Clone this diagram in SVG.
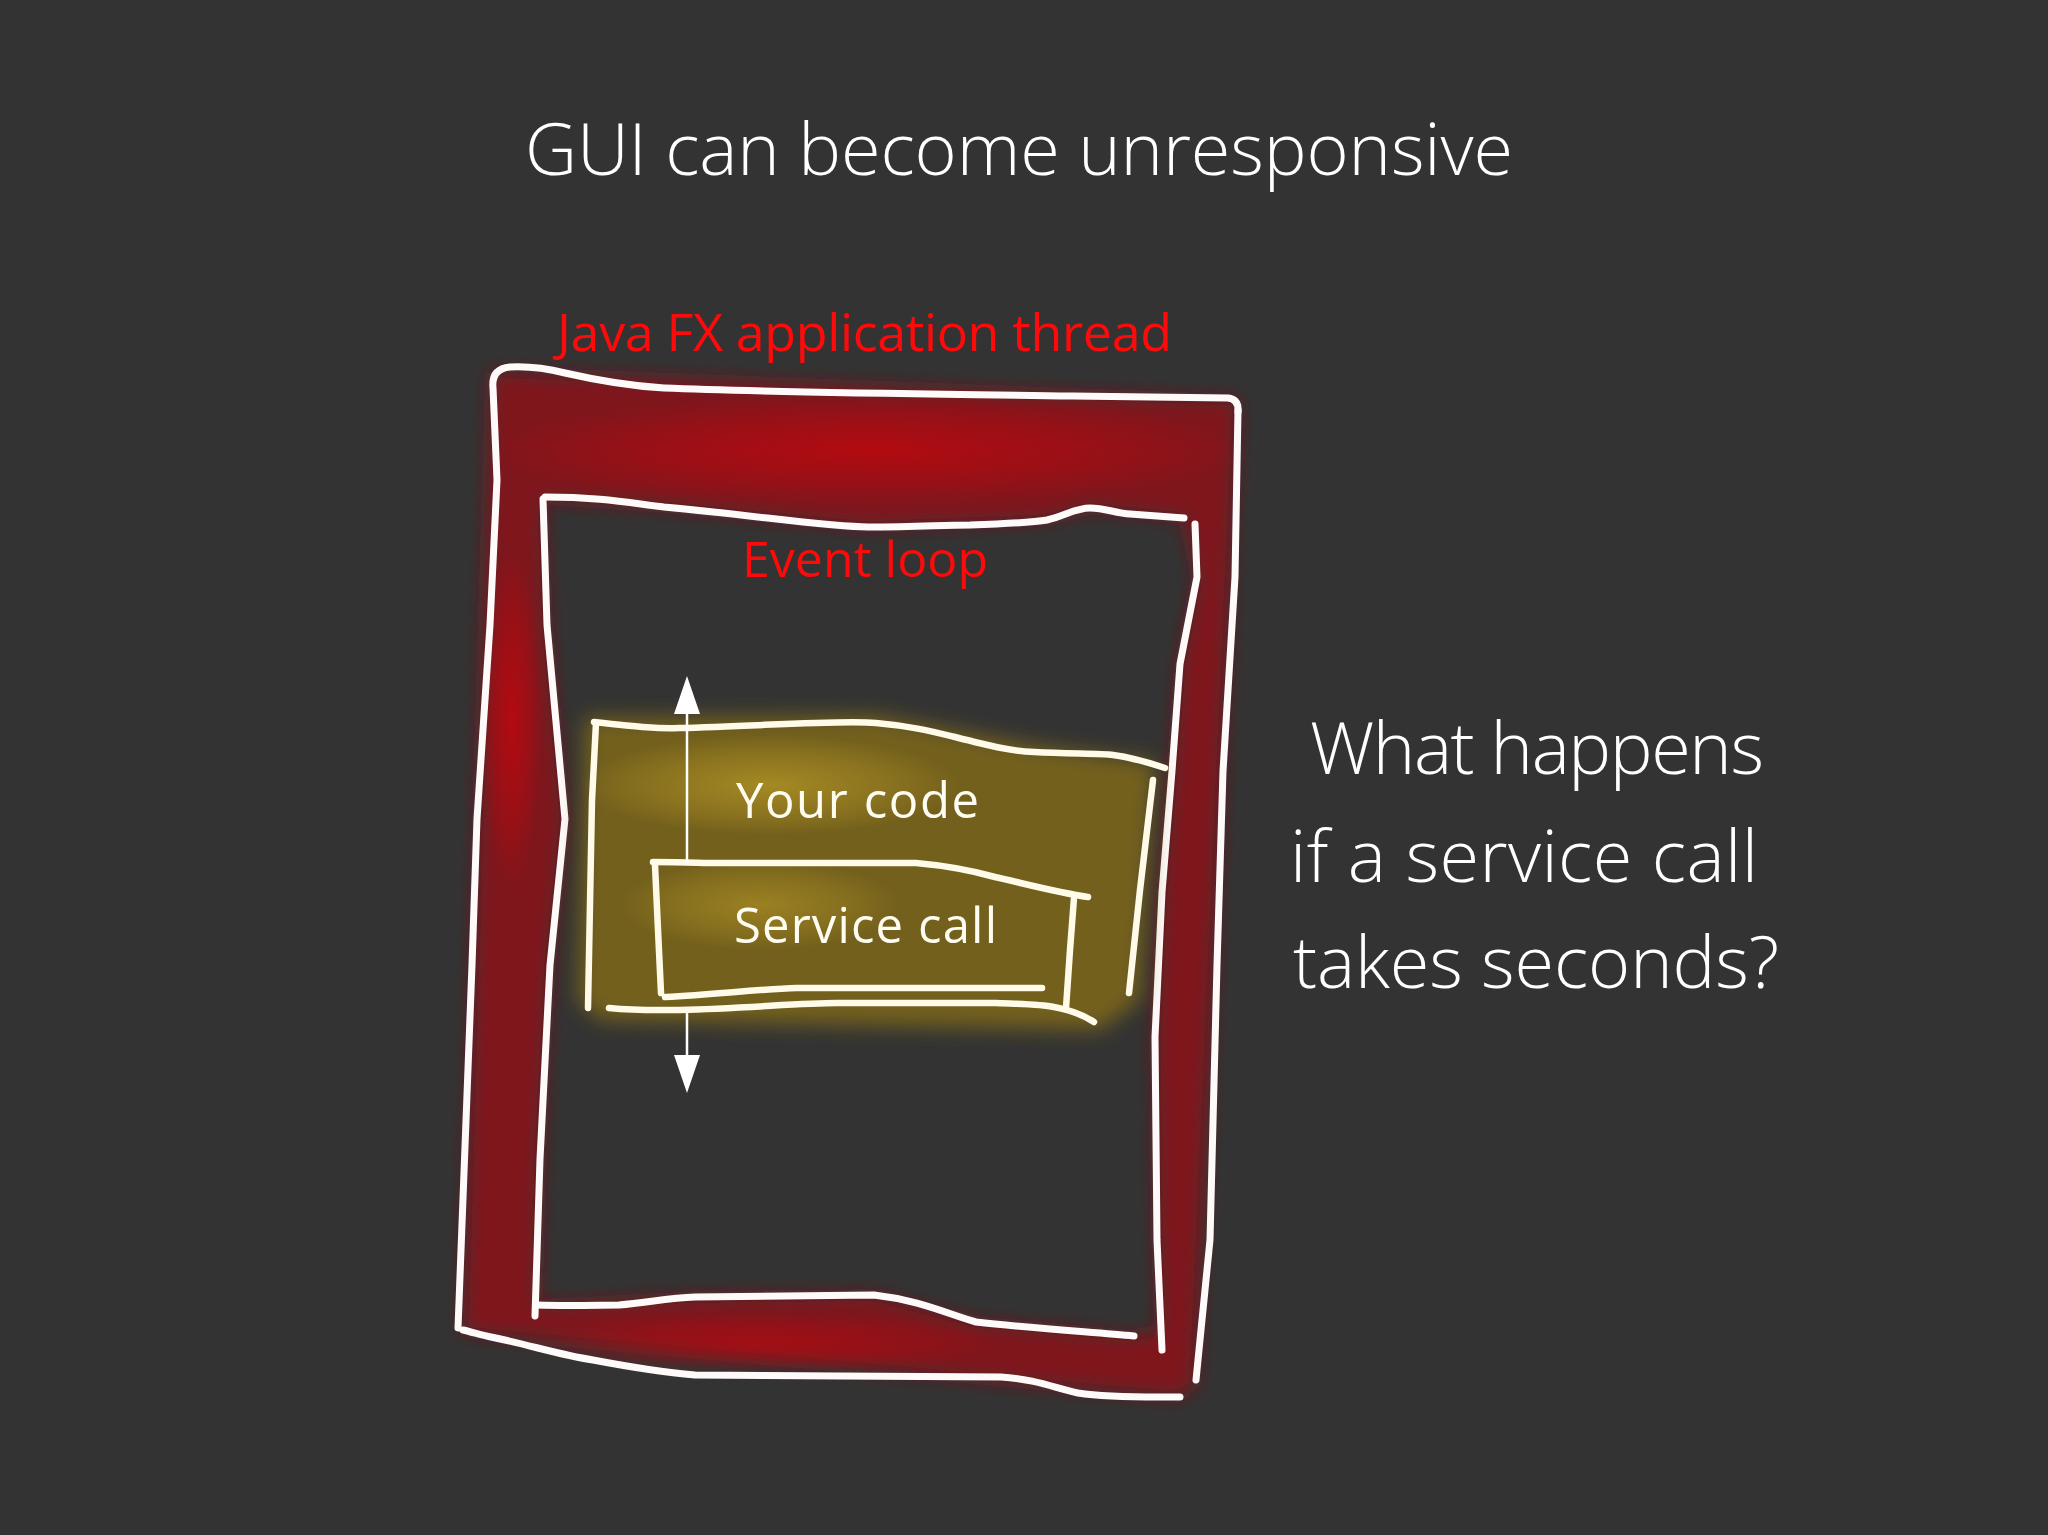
<svg xmlns="http://www.w3.org/2000/svg" width="2048" height="1535" viewBox="0 0 2048 1535">
<defs>
<style>
.bg{fill:#333333}
.t-light{font-family:"Open Sans","Liberation Sans",sans-serif;font-weight:300;fill:#ffffff}
.t-red{font-family:"Open Sans","Liberation Sans",sans-serif;font-weight:400;fill:#ff0a0a}
.t-lab{font-family:"Open Sans","Liberation Sans",sans-serif;font-weight:400;fill:#fffdf2}
.frame{fill:none;stroke:#fffafa;stroke-width:7;stroke-linecap:round;stroke-linejoin:round}
.box{fill:none;stroke:#fffbe8;stroke-width:6.5;stroke-linecap:round;stroke-linejoin:round}
.arrow{fill:none;stroke:#ffffff;stroke-width:2.5}
</style>
<filter id="blurR" filterUnits="userSpaceOnUse" x="0" y="0" width="2048" height="1535"><feGaussianBlur stdDeviation="9"/></filter>
<filter id="blurY" filterUnits="userSpaceOnUse" x="0" y="0" width="2048" height="1535"><feGaussianBlur stdDeviation="10"/></filter>
<radialGradient id="gRed"><stop offset="0" stop-color="#b50a10" stop-opacity="0.95"/><stop offset="0.6" stop-color="#b50a10" stop-opacity="0.45"/><stop offset="1" stop-color="#b50a10" stop-opacity="0"/></radialGradient>
<radialGradient id="gYel"><stop offset="0" stop-color="#a88b24" stop-opacity="0.95"/><stop offset="0.6" stop-color="#a88b24" stop-opacity="0.45"/><stop offset="1" stop-color="#a88b24" stop-opacity="0"/></radialGradient>
<marker id="ah" viewBox="0 0 40 26" refX="2" refY="13" markerWidth="40" markerHeight="26" markerUnits="userSpaceOnUse" orient="auto-start-reverse">
<path d="M0,0 L38,13 L0,26 Z" fill="#ffffff"/>
</marker>
</defs>
<rect class="bg" x="0" y="0" width="2048" height="1535"/>

<text class="t-light" x="525" y="175" font-size="72" textLength="988" lengthAdjust="spacing">GUI can become unresponsive</text>

<g id="javafx-thread">
<path filter="url(#blurR)" fill="#7f161b" fill-rule="evenodd" d="M491,372 L1238,400 L1195,1385 L1180,1397 L463,1332 Z M543,499 L664,507 L868,527 L1047,520 L1090,508 L1184,518 L1197,577 L1180,664 L1172,771 L1162,892 L1155,1037 L1157,1240 L1160,1330 L1134,1336 L976,1322 L874,1295 L695,1297 L537,1305 L540,1159 L550,965 L565,819 L547,625 Z"/>
<ellipse cx="870" cy="450" rx="380" ry="55" fill="url(#gRed)"/>
<ellipse cx="512" cy="720" rx="30" ry="170" fill="url(#gRed)"/>
<ellipse cx="760" cy="1343" rx="240" ry="30" fill="url(#gRed)" opacity="0.7"/>
<path class="frame" d="M458,1328 L472,965 L477,819 L490,625 L497,480 L493,388 Q491,369 510,367 C530,366 545,368 565,373 C600,381 630,386 664,388 C760,392 868,393 1072,396 L1228,398 Q1239,399 1238,412"/>
<path class="frame" d="M1238,410 L1235,577 L1223,771 L1217,965 L1210,1240 L1196,1380"/>
<path class="frame" d="M463,1330 C475,1333 485,1336 491,1337 C530,1345 560,1355 593,1360 C630,1367 660,1372 695,1375 L1001,1377 C1035,1379 1055,1388 1078,1393 C1110,1398 1150,1397 1180,1397"/>
<text class="t-red" x="557" y="351" font-size="52" textLength="615" lengthAdjust="spacing">Java FX application thread</text>
</g>

<g id="event-loop">
<path class="frame" d="M543,499 L547,625 L565,819 L550,965 L540,1159 L535,1316"/>
<path class="frame" d="M545,497 C600,497 630,503 664,507 C760,516 830,527 868,527 C920,527 940,525 970,525 C1000,524 1030,523 1047,520 C1065,516 1075,508 1090,508 C1105,508 1115,513 1130,514 L1184,518"/>
<path class="frame" d="M1195,524 L1197,577 L1180,664 L1172,771 L1162,892 L1155,1037 L1157,1240 L1162,1350"/>
<path class="frame" d="M537,1305 C570,1306 600,1305 619,1305 C650,1302 670,1298 695,1297 L874,1295 C920,1300 950,1315 976,1322 C1030,1328 1090,1332 1134,1336"/>
<text class="t-red" x="742" y="577" font-size="50" textLength="246" lengthAdjust="spacing">Event loop</text>
</g>

<g id="your-code">
<path filter="url(#blurY)" fill="#73611f" d="M585,718 L876,716 L1034,746 L1155,762 L1140,1000 L1100,1030 L600,1020 L578,1000 Z"/>
<ellipse cx="770" cy="785" rx="190" ry="50" fill="url(#gYel)"/>
<ellipse cx="760" cy="905" rx="140" ry="45" fill="url(#gYel)" opacity="0.8"/>
<path class="box" d="M594,722 C640,727 660,729 679,728 C760,726 840,720 876,723 C910,726 930,731 955,737 C990,746 1010,751 1034,752 C1070,754 1100,753 1113,755 C1135,758 1150,763 1165,768"/>
<path class="box" d="M596,723 L592,800 L588,1008"/>
<path class="box" d="M609,1008 C640,1011 660,1010 679,1010 C750,1008 800,1003 837,1003 L995,1003 C1020,1004 1040,1004 1054,1007 C1070,1010 1085,1016 1094,1022"/>
<path class="box" d="M1153,780 L1140,890 L1129,993"/>
<text class="t-lab" x="736" y="818" font-size="49" textLength="243" lengthAdjust="spacing">Your code</text>
</g>

<g id="service-call">
<path class="box" d="M653,862 C690,862 700,863 718,863 L916,863 C950,866 970,870 995,877 C1030,885 1060,893 1088,897"/>
<path class="box" d="M655,865 L658,930 L661,993"/>
<path class="box" d="M665,997 C720,994 760,989 797,988 L1042,988"/>
<path class="box" d="M1074,898 L1070,950 L1066,1008"/>
<text class="t-lab" x="734" y="943" font-size="49" textLength="263" lengthAdjust="spacing">Service call</text>
</g>

<g id="connectors">
<path class="arrow" d="M687,712 V862 M687,1012 V1057" marker-start="url(#ah)" marker-end="url(#ah)"/>
</g>

<g id="question">
<text class="t-light" x="1310" y="774" font-size="72" textLength="454" lengthAdjust="spacing">What happens</text>
<text class="t-light" x="1290" y="882" font-size="72" textLength="468" lengthAdjust="spacing">if a service call</text>
<text class="t-light" x="1293" y="988" font-size="72" textLength="486" lengthAdjust="spacing">takes seconds?</text>
</g>
</svg>
